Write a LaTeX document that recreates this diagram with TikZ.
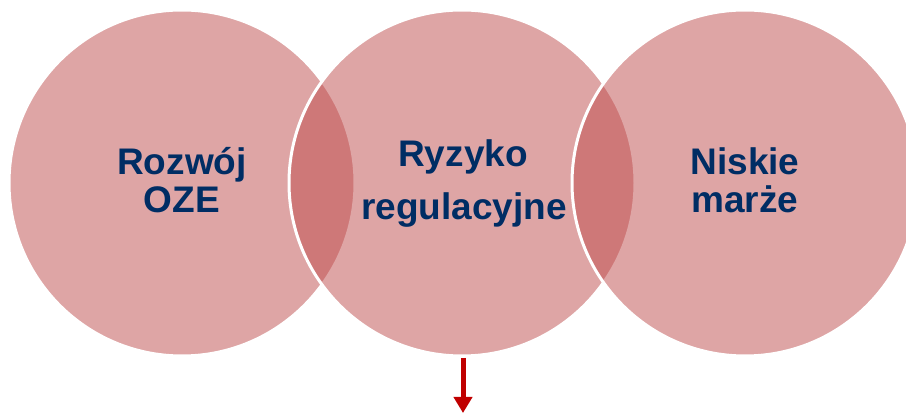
\documentclass[tikz,border=0pt]{standalone}
\usepackage{fontspec}
\setmainfont{Liberation Sans}
\usetikzlibrary{arrows.meta}
\definecolor{circfill}{RGB}{191,77,77}
\definecolor{navytext}{RGB}{0,45,100}
\definecolor{arrowred}{RGB}{192,0,0}
\tikzset{
  venn/.style={circle, minimum size=346pt, inner sep=0pt, outer sep=0pt,
    fill=circfill, fill opacity=0.5, draw=white, draw opacity=1, line width=3pt},
  lbl/.style={anchor=base, inner sep=0pt, text=navytext,
    font=\fontsize{37}{38}\selectfont\bfseries},
  downarrow/.style={draw=arrowred, line width=5pt, -{Triangle[width=18pt,length=16pt]}}
}
\begin{document}
\begin{tikzpicture}[x=1pt,y=-1pt]
\useasboundingbox (0,0) rectangle (906,414);
\fill[white] (0,0) rectangle (906,414);
\node[venn] (c1) at (182,183) {};
\node[venn] (c2) at (462,183) {};
\node[venn] (c3) at (745,183) {};
\node[lbl] (t1a) at (182,175) {Rozwój};
\node[lbl] (t1b) at (182,213) {OZE};
\node[lbl] (t2a) at (463,167) {Ryzyko};
\node[lbl] (t2b) at (464,220) {regulacyjne};
\node[lbl] (t3a) at (745,175) {Niskie};
\node[lbl] (t3b) at (745,213) {marże};
\coordinate (tip) at (463,413);
\draw[downarrow] ([yshift=-2pt]c2.south -| tip) -- (tip);
\end{tikzpicture}
\end{document}
